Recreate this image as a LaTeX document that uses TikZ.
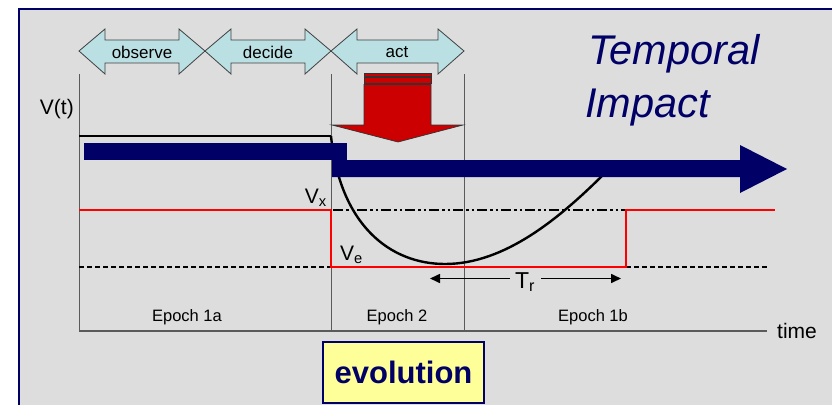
\documentclass[tikz,border=0pt]{standalone}
\usepackage{fontspec}
\setmainfont{Liberation Sans}
\usetikzlibrary{arrows.meta}
\definecolor{bgray}{HTML}{DDDDDD}
\definecolor{navy}{HTML}{000066}
\definecolor{cyanfill}{HTML}{BBE0E3}
\definecolor{darkred}{HTML}{CC0000}
\definecolor{pale}{HTML}{FFFF99}
\definecolor{axisgray}{HTML}{5A5A5A}
\tikzset{
  arrowbox/.style={draw=black!75, line width=0.8pt, fill=cyanfill},
  smalltxt/.style={font=\fontsize{17}{20}\selectfont, inner sep=0pt},
  epochtxt/.style={font=\fontsize{16.5}{20}\selectfont, inner sep=0pt},
  symtxt/.style={font=\fontsize{21}{24}\selectfont, inner sep=0pt},
  vline/.style={draw=axisgray, line width=1pt},
  redline/.style={draw=red, line width=2.6pt},
  bluebar/.style={fill=navy},
  redbox/.style={fill=darkred, draw=black!80, line width=0.7pt},
  dashdotdot/.style={draw=black, line width=1.7pt, dash pattern=on 10pt off 3pt on 2.5pt off 3pt on 2.5pt off 3pt},
}
\begin{document}
\begin{tikzpicture}[x=1pt,y=-1pt]
\useasboundingbox (0,0) rectangle (832,404);
% background panel
\fill[white] (0,0) rectangle (832,404);
\fill[bgray] (19,9) rectangle (840,412);
\draw[navy, line width=1.6pt] (19,412) -- (19,9) -- (840,9);

% vertical epoch lines and time axis
\coordinate (t0) at (79,331);
\coordinate (t1) at (767,331);
\draw[vline] (79,74) -- (t0);
\draw[vline] (331,74) -- (331,331);
\draw[vline] (464,74) -- (464,331);
\draw[vline, line width=1.3pt] (t0) -- (t1);
\node[anchor=west, font=\fontsize{21}{24}\selectfont, inner sep=0pt] (time) at (777,331) {time};

% reference levels
\draw[black, line width=1.8pt, dash pattern=on 5pt off 3pt] (79,267) -- (331,267);
\draw[black, line width=1.8pt, dash pattern=on 5pt off 3pt] (626,267) -- (767,267);
\draw[dashdotdot] (333,210) -- (626,210);

% red threshold line
\draw[redline] (79,210) -- (331,210) -- (331,267) -- (626,267) -- (626,210) -- (775,210);

% value curve
\coordinate (v0) at (79,136);
\coordinate (v1) at (331,136);
\draw[black, line width=2.6pt] (v0) -- (v1);
\draw[black, line width=2.4pt] (v1) .. controls (340,225) and (390,264) .. (445,264)
  .. controls (505,264) and (560,218) .. (606,172);

% blue temporal arrow
\fill[bluebar] (84,143) rectangle (347,160);
\fill[bluebar] (332,160) -- (740,160) -- (740,145) -- (787,169) -- (740,193) -- (740,177) -- (332,177) -- cycle;

% red impact arrow
\filldraw[redbox] (364,73.5) rectangle (431,76);
\filldraw[redbox] (364,77.5) rectangle (431,83);
\filldraw[redbox] (364,84.5) -- (431,84.5) -- (431,125) -- (463,125) -- (398,142) -- (332,125) -- (364,125) -- cycle;

% OODA double arrows
\draw[arrowbox] (79,51) -- (105,29) -- (105,40) -- (179,40) -- (179,29) -- (205,51) -- (179,74) -- (179,63) -- (105,63) -- (105,74) -- cycle;
\draw[arrowbox] (205,51) -- (231,29) -- (231,40) -- (305,40) -- (305,29) -- (331,51) -- (305,74) -- (305,63) -- (231,63) -- (231,74) -- cycle;
\draw[arrowbox] (331,51) -- (357,29) -- (357,40) -- (438,40) -- (438,29) -- (464,51) -- (438,74) -- (438,63) -- (357,63) -- (357,74) -- cycle;
\node[smalltxt] (observe) at (142,52) {observe};
\node[smalltxt] (decide) at (268,52) {decide};
\node[smalltxt] (act) at (397,52) {act};

% labels
\node[symtxt, anchor=east] (vt) at (74,109) {V(t)};
\node[symtxt, anchor=base east] (vx) at (327,203) {V\textsubscript{x}};
\node[symtxt, anchor=base west] (ve) at (340,260) {V\textsubscript{e}};
\node[font=\fontsize{23}{26}\selectfont, inner sep=1pt] (tr) at (525,282) {T\textsubscript{r}};
\coordinate (trl) at (430,278.5);
\coordinate (trr) at (621,278.5);
\draw[black, line width=1.6pt, -{Triangle[length=10pt,width=9pt]}] (tr.west |- trl) ++(-4,0) -- (trl);
\draw[black, line width=1.6pt, -{Triangle[length=10pt,width=9pt]}] (tr.east |- trr) ++(5,0) -- (trr);

\node[epochtxt] (e1a) at (187,317) {Epoch 1a};
\node[epochtxt] (e2) at (397,317) {Epoch 2};
\node[epochtxt] (e1b) at (593,317) {Epoch 1b};

% title
\node[anchor=base west, inner sep=0pt, text=navy, font=\fontsize{41.5}{48}\selectfont\itshape] (temporal) at (588,65) {Temporal};
\node[anchor=base west, inner sep=0pt, text=navy, font=\fontsize{41.5}{48}\selectfont\itshape] (impact) at (585,117) {Impact};

% evolution box
\node[draw=navy, line width=1.5pt, fill=pale, minimum width=161pt, minimum height=61pt, inner sep=0pt,
      text=navy, font=\fontsize{31}{36}\selectfont\bfseries] (evo) at (403.5,372.5) {evolution};
\end{tikzpicture}
\end{document}
